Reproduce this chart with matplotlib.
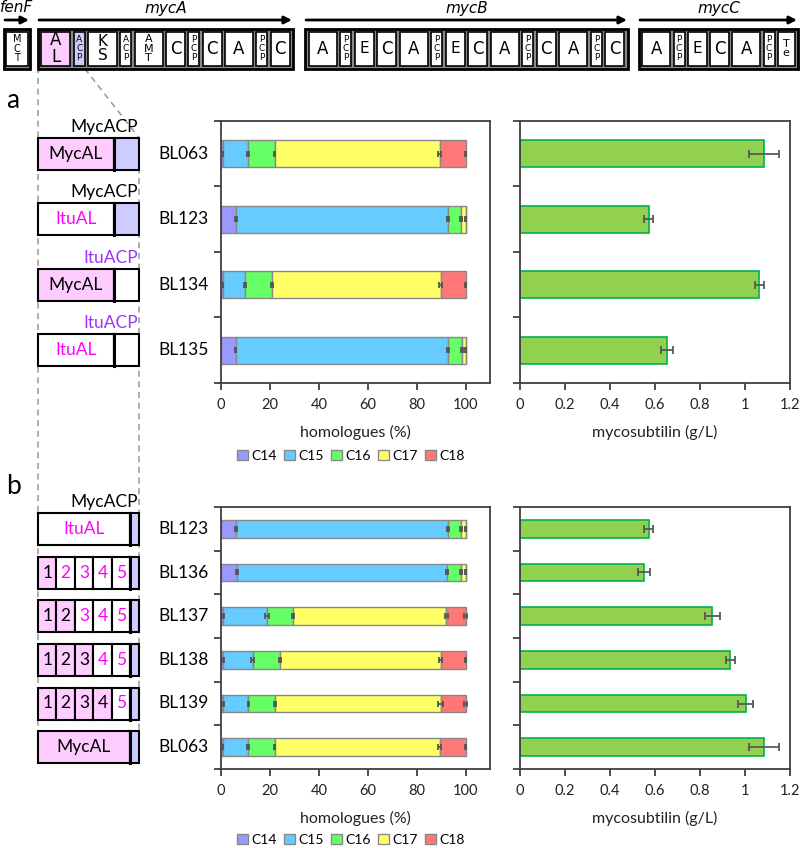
import numpy as np
import matplotlib
matplotlib.use('Agg')
import matplotlib.pyplot as plt
from matplotlib.patches import Rectangle, Patch
from matplotlib.transforms import blended_transform_factory

plt.rcParams['font.family'] = ['Lato', 'DejaVu Sans']

# ---------------- data ----------------
homologue_names = ['C14', 'C15', 'C16', 'C17', 'C18']
homologue_colors = ['#9999FF', '#66CCFF', '#66FF66', '#FFFF66', '#FF7777']

strains_a = ['BL063', 'BL123', 'BL134', 'BL135']
c14_a = [0.8, 6.2, 0.8, 6.0]
c15_a = [10.3, 86.6, 9.1, 87.0]
c16_a = [10.8, 5.3, 10.9, 5.5]
c17_a = [67.5, 1.9, 69.0, 1.5]
c18_a = [10.6, 0.0, 10.2, 0.0]
err_c14_a = [0.2, 0.3, 0.2, 0.3]
err_c15_a = [0.3, 0.4, 0.3, 0.4]
err_c16_a = [0.3, 0.3, 0.3, 0.3]
err_c17_a = [0.6, 0.3, 0.6, 0.3]
err_c18_a = [0.3, 0.0, 0.3, 0.0]
myco_a = [1.084, 0.573, 1.064, 0.653]
myco_err_a = [0.066, 0.020, 0.019, 0.025]
al_a = ['MycAL', 'ItuAL', 'MycAL', 'ItuAL']
acp_a = ['MycACP', 'MycACP', 'ItuACP', 'ItuACP']

strains_b = ['BL123', 'BL136', 'BL137', 'BL138', 'BL139', 'BL063']
c14_b = [6.2, 6.5, 1.0, 1.0, 1.0, 0.8]
c15_b = [86.6, 85.9, 17.7, 11.9, 10.2, 10.3]
c16_b = [5.3, 5.7, 10.8, 11.3, 10.7, 10.8]
c17_b = [1.9, 1.9, 62.6, 65.7, 67.9, 67.5]
c18_b = [0.0, 0.0, 7.9, 10.1, 10.2, 10.6]
err_c14_b = [0.3, 0.3, 0.2, 0.2, 0.2, 0.2]
err_c15_b = [0.4, 0.4, 0.8, 0.5, 0.3, 0.3]
err_c16_b = [0.3, 0.3, 0.5, 0.5, 0.4, 0.3]
err_c17_b = [0.3, 0.3, 0.6, 0.6, 0.9, 0.6]
err_c18_b = [0.0, 0.0, 0.5, 0.3, 0.5, 0.3]
myco_b = [0.573, 0.550, 0.855, 0.935, 1.003, 1.084]
myco_err_b = [0.020, 0.026, 0.033, 0.019, 0.034, 0.066]
myc_subdomains_b = [0, 1, 2, 3, 4, 5]   # number of MycAL sub-parts (out of 5)

genes = ['fenF', 'mycA', 'mycB', 'mycC']
gene_domains = {
    'fenF': ['MCT'],
    'mycA': ['AL', 'ACP', 'KS', 'ACP', 'AMT', 'C', 'PCP', 'C', 'A', 'PCP', 'C'],
    'mycB': ['A', 'PCP', 'E', 'C', 'A', 'PCP', 'E', 'C', 'A', 'PCP', 'C', 'A', 'PCP', 'C'],
    'mycC': ['A', 'PCP', 'E', 'C', 'A', 'PCP', 'Te'],
}

# ---------------- layout / style ----------------
W, H = 800, 848
fig = plt.figure(figsize=(W / 100, H / 100), dpi=100)
PINK = '#FFCCFF'
LAV = '#CCCCFF'
MAG = '#FF00FF'
PURP = '#9933FF'
AXC = '#404040'


def rect(x0, y0, x1, y1):
    return [x0 / W, 1 - y1 / H, (x1 - x0) / W, (y1 - y0) / H]


ov = fig.add_axes([0, 0, 1, 1], zorder=-1)
ov.set_xlim(0, W)
ov.set_ylim(H, 0)
ov.axis('off')


def style_axis(ax, n, xlim, xticks, xticklabels, xlabel):
    ax.set_ylim(n - 0.5, -0.5)
    ax.set_xlim(*xlim)
    ax.set_yticks(np.arange(-0.5, n, 1.0))
    ax.set_yticklabels([])
    ax.tick_params(axis='y', length=5, width=1.3, color=AXC, direction='out')
    ax.set_xticks(xticks)
    ax.set_xticklabels(xticklabels, fontsize=10.5, color='#222222')
    ax.tick_params(axis='x', length=5, width=1.3, color=AXC, direction='out', pad=6)
    ax.set_xlabel(xlabel, fontsize=11.5, labelpad=9, color='#222222')
    for s in ax.spines.values():
        s.set_color(AXC)
        s.set_linewidth(1.3)


def hom_panel(ax, strains, series, errs):
    n = len(strains)
    y = np.arange(n)
    left = np.zeros(n)
    for vals, col in zip(series, homologue_colors):
        ax.barh(y, vals, left=left, height=0.41, color=col, edgecolor='#888888', lw=1.0, zorder=2)
        left = left + np.array(vals)
    left = np.zeros(n)
    for vals, e in zip(series, errs):
        left = left + np.array(vals)
        m = np.array(vals) > 0
        ax.errorbar(left[m], y[m], xerr=np.array(e)[m], fmt='none', ecolor='#555555',
                    elinewidth=1.3, capsize=2.2, capthick=1.3, zorder=3)
    style_axis(ax, n, (0, 110), np.arange(0, 101, 20), [str(v) for v in range(0, 101, 20)],
               'homologues (%)')
    tr = blended_transform_factory(ax.transAxes, ax.transData)
    for i, s in enumerate(strains):
        ax.text(-0.138, i, s, transform=tr, ha='center', va='center', fontsize=12.5, clip_on=False)


def myco_panel(ax, vals, errs):
    n = len(vals)
    y = np.arange(n)
    ax.barh(y, vals, height=0.41, color='#92D050', edgecolor='#00B050', lw=1.2, zorder=2)
    ax.errorbar(vals, y, xerr=errs, fmt='none', ecolor='#595959', elinewidth=1.3,
                capsize=3, capthick=1.3, zorder=3)
    ticks = [0, 0.2, 0.4, 0.6, 0.8, 1.0, 1.2]
    style_axis(ax, n, (0, 1.2), ticks, ['0', '0.2', '0.4', '0.6', '0.8', '1', '1.2'],
               'mycosubtilin (g/L)')


ha_a = fig.add_axes(rect(221, 121, 490, 383))
my_a = fig.add_axes(rect(520, 121, 790, 383))
ha_b = fig.add_axes(rect(221, 507, 490, 769))
my_b = fig.add_axes(rect(520, 507, 790, 769))

hom_panel(ha_a, strains_a, [c14_a, c15_a, c16_a, c17_a, c18_a],
          [err_c14_a, err_c15_a, err_c16_a, err_c17_a, err_c18_a])
myco_panel(my_a, myco_a, myco_err_a)
hom_panel(ha_b, strains_b, [c14_b, c15_b, c16_b, c17_b, c18_b],
          [err_c14_b, err_c15_b, err_c16_b, err_c17_b, err_c18_b])
myco_panel(my_b, myco_b, myco_err_b)

handles = [Patch(facecolor=c, edgecolor='#888888', lw=1.0) for c in homologue_colors]
for yl in (456, 840):
    fig.legend(handles, homologue_names, loc='center', bbox_to_anchor=(351 / W, 1 - yl / H),
               ncol=5, frameon=False, handlelength=0.75, handleheight=0.75, handletextpad=0.25,
               columnspacing=0.55, fontsize=10)


def row_px(ax, i):
    return H - ax.transData.transform((0, i))[1]


# ---------------- gene cluster ----------------
gene_span = {'fenF': (4, 30), 'mycA': (38, 293), 'mycB': (305, 628), 'mycC': (639, 798)}
dom_w = {'A': 28, 'C': 19, 'E': 19, 'PCP': 11, 'ACP': 11, 'KS': 29, 'AMT': 28, 'AL': 29,
         'Te': 17, 'MCT': 22}
dom_txt = {'A': ('A', 12), 'C': ('C', 12), 'E': ('E', 11), 'PCP': ('P\nC\nP', 6.5),
           'ACP': ('A\nC\nP', 6.5), 'KS': ('K\nS', 11), 'AMT': ('A\nM\nT', 8), 'AL': ('A\nL', 12),
           'Te': ('T\ne', 8), 'MCT': ('M\nC\nT', 7)}
al_left = acp_right = None
for g in genes:
    x0, x1 = gene_span[g]
    ov.add_patch(Rectangle((x0, 28.5), x1 - x0, 40, facecolor='#8a8a8a', edgecolor='black',
                           lw=2, zorder=2))
    doms = gene_domains[g]
    ws = [dom_w[d] for d in doms]
    gap = ((x1 - x0) - sum(ws)) / (len(ws) + 1)
    x = x0 + gap
    for k, (d, w) in enumerate(zip(doms, ws)):
        fc = 'white'
        if g == 'mycA' and k == 0:
            fc = PINK
            al_left = x
        if g == 'mycA' and k == 1:
            fc = LAV
            acp_right = x + w
        ov.add_patch(Rectangle((x, 31.5), w, 34, facecolor=fc, edgecolor='black', lw=1.2, zorder=3))
        t, fs = dom_txt[d]
        ov.text(x + w / 2, 48.5, t, ha='center', va='center', fontsize=fs, linespacing=0.95,
                family='DejaVu Sans', zorder=4)
        x += w + gap
    ov.annotate('', xy=(x1 - 1, 20), xytext=(x0 + 1, 20),
                arrowprops=dict(arrowstyle='-|>', color='black', lw=2, mutation_scale=11,
                                shrinkA=0, shrinkB=0))
    ov.text((x0 + x1) / 2, 8, g, ha='center', va='center', fontsize=11, style='italic',
            family='DejaVu Sans')

# ---------------- constructs ----------------
BX0, BX1 = 38, 139
dash = dict(color='#999999', lw=1.1, ls=(0, (4, 3)), zorder=1)
y_end = row_px(ha_b, len(strains_b) - 1) - 16
ov.plot([al_left, BX0, BX0], [68.5, 72, y_end], **dash)
ov.plot([acp_right, BX1, BX1], [68.5, row_px(ha_a, 0) - 16, y_end], **dash)

ov.text(13, 100, 'a', fontsize=19, ha='center', va='center')
ov.text(13, 486, 'b', fontsize=19, ha='center', va='center')

DIV_A = 114
for i, s in enumerate(strains_a):
    yc = row_px(ha_a, i)
    myc_al = al_a[i] == 'MycAL'
    myc_acp = acp_a[i] == 'MycACP'
    ov.add_patch(Rectangle((BX0, yc - 16), DIV_A - BX0, 32, facecolor=PINK if myc_al else 'white',
                           edgecolor='black', lw=1.5, zorder=3))
    ov.add_patch(Rectangle((DIV_A, yc - 16), BX1 - DIV_A, 32, facecolor=LAV if myc_acp else 'white',
                           edgecolor='black', lw=1.5, zorder=3))
    ov.plot([DIV_A, DIV_A], [yc - 16, yc + 16], color='black', lw=2.2, zorder=4)
    ov.text((BX0 + DIV_A) / 2, yc, al_a[i], ha='center', va='center', fontsize=12.5,
            color='black' if myc_al else MAG, zorder=5)
    ov.text(BX1 - 1, yc - 19, acp_a[i], ha='right', va='bottom', fontsize=12.5,
            color='black' if myc_acp else PURP, zorder=5)

DIV_B = 130
seg_w = (DIV_B - BX0) / 5
for i, s in enumerate(strains_b):
    yc = row_px(ha_b, i)
    nm = myc_subdomains_b[i]
    if nm in (0, 5):
        ov.add_patch(Rectangle((BX0, yc - 16), DIV_B - BX0, 32, facecolor=PINK if nm == 5 else 'white',
                               edgecolor='black', lw=1.5, zorder=3))
        ov.text((BX0 + DIV_B) / 2, yc, 'MycAL' if nm == 5 else 'ItuAL', ha='center', va='center',
                fontsize=12.5, color='black' if nm == 5 else MAG, zorder=5)
    else:
        for k in range(5):
            xs = BX0 + k * seg_w
            ov.add_patch(Rectangle((xs, yc - 16), seg_w, 32, facecolor=PINK if k < nm else 'white',
                                   edgecolor='black', lw=1.5, zorder=3))
            ov.text(xs + seg_w / 2, yc, str(k + 1), ha='center', va='center', fontsize=12.5,
                    color='black' if k < nm else MAG, zorder=5)
    ov.add_patch(Rectangle((DIV_B, yc - 16), BX1 - DIV_B, 32, facecolor=LAV,
                           edgecolor='black', lw=1.5, zorder=3))
    ov.plot([DIV_B, DIV_B], [yc - 16, yc + 16], color='black', lw=2.2, zorder=4)
    if i == 0:
        ov.text(BX1 - 1, yc - 19, 'MycACP', ha='right', va='bottom', fontsize=12.5, zorder=5)

fig.savefig('out.png', dpi=100)
